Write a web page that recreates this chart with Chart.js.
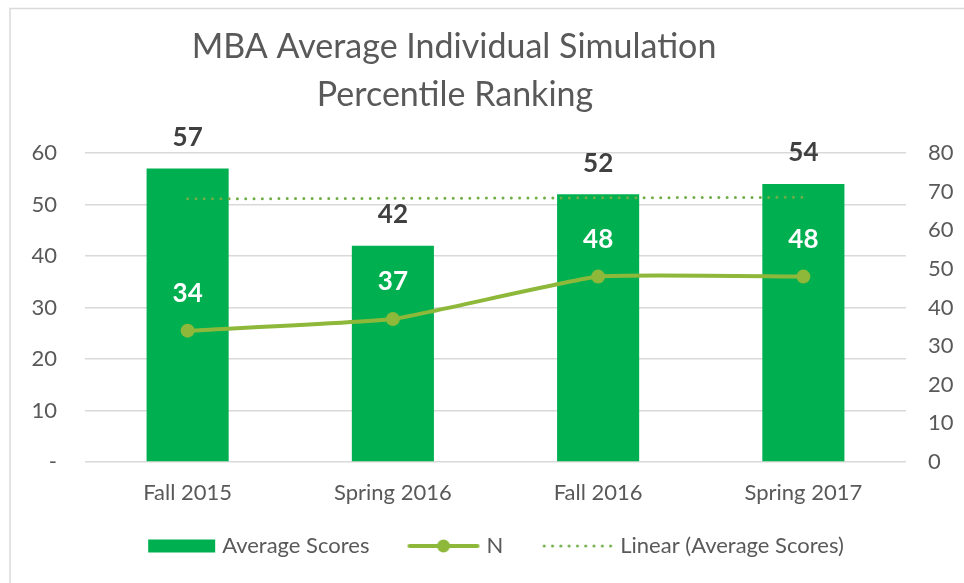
<!DOCTYPE html>
<html>
<head>
<meta charset="utf-8">
<script src="https://cdn.jsdelivr.net/npm/chart.js@4.4.1/dist/chart.umd.min.js"></script>
<style>
    html, body { margin: 0; padding: 0; background: #ffffff; }
    #wrap { width: 964px; height: 583px; position: relative; }
</style>
</head>
<body>
<div id="wrap"><canvas id="scoresChart"></canvas></div>
<script>
const terms = ['Fall 2015', 'Spring 2016', 'Fall 2016', 'Spring 2017'];
const averageScores = [57, 42, 52, 54];
const nValues = [34, 37, 48, 48];
// Excel linear trendline of the average scores
const trendValues = [51.1, 51.2, 51.3, 51.4];
const leftTicks = [0, 10, 20, 30, 40, 50, 60];
const rightTicks = [0, 10, 20, 30, 40, 50, 60, 70, 80];
const titleLines = ['MBA Average Individual Simulation', 'Percentile Ranking'];
const legendNames = ['Average Scores', 'N', 'Linear (Average Scores)'];

const BAR_GREEN = '#00b050';
const LINE_GREEN = '#8db83a';
const TREND_GREEN = '#70ad47';
const TEXT_GREY = '#595959';
const GRID_GREY = '#d9d9d9';
const FONT = 'Lato';

// Small canvases used as legend symbols; the empty left part gives the gap between items
const makeSymbol = (draw) => {
    const c = document.createElement('canvas');
    c.width = 93;
    c.height = 16;
    draw(c.getContext('2d'));
    return c;
};

const barSymbol = makeSymbol((ctx) => {
    ctx.fillStyle = BAR_GREEN;
    ctx.fillRect(25, 1.5, 67, 13);
});

const lineSymbol = makeSymbol((ctx) => {
    ctx.strokeStyle = LINE_GREEN;
    ctx.lineWidth = 4;
    ctx.lineCap = 'round';
    ctx.beginPath();
    ctx.moveTo(22, 8);
    ctx.lineTo(90, 8);
    ctx.stroke();
    ctx.fillStyle = LINE_GREEN;
    ctx.beginPath();
    ctx.arc(56, 8, 6.5, 0, Math.PI * 2);
    ctx.fill();
});

const dottedSymbol = makeSymbol((ctx) => {
    ctx.strokeStyle = TREND_GREEN;
    ctx.lineWidth = 3;
    ctx.lineCap = 'round';
    ctx.setLineDash([0, 8.3]);
    ctx.beginPath();
    ctx.moveTo(23, 8);
    ctx.lineTo(91, 8);
    ctx.stroke();
});

const legendSymbols = [barSymbol, lineSymbol, dottedSymbol];

const chartFrame = {
    id: 'chartFrame',
    beforeDraw(chart) {
        const ctx = chart.ctx;
        ctx.save();
        ctx.strokeStyle = GRID_GREY;
        ctx.lineWidth = 1.5;
        ctx.beginPath();
        ctx.moveTo(10, 600);
        ctx.lineTo(10, 8.5);
        ctx.lineTo(980, 8.5);
        ctx.stroke();
        ctx.restore();
    },
};

const chartTitle = {
    id: 'chartTitle',
    afterDraw(chart) {
        const ctx = chart.ctx;
        ctx.save();
        ctx.fillStyle = TEXT_GREY;
        ctx.font = `34px ${FONT}`;
        ctx.textAlign = 'center';
        ctx.textBaseline = 'middle';
        ctx.fillText(titleLines[0], 454, 47);
        ctx.fillText(titleLines[1], 455, 95);
        ctx.restore();
    },
};

const valueLabels = {
    id: 'valueLabels',
    afterDatasetsDraw(chart) {
        const ctx = chart.ctx;
        ctx.save();
        ctx.font = `bold 26px ${FONT}`;
        ctx.textAlign = 'center';
        ctx.textBaseline = 'middle';
        chart.getDatasetMeta(0).data.forEach((bar, i) => {
            ctx.fillStyle = '#404040';
            ctx.fillText(averageScores[i], bar.x, bar.y - 31);
        });
        chart.getDatasetMeta(2).data.forEach((point, i) => {
            ctx.fillStyle = '#ffffff';
            ctx.fillText(nValues[i], point.x, point.y - 37);
        });
        ctx.restore();
    },
};

new Chart(document.getElementById('scoresChart'), {
    data: {
        labels: terms,
        datasets: [
            {
                type: 'bar',
                label: legendNames[0],
                data: averageScores,
                yAxisID: 'y',
                backgroundColor: BAR_GREEN,
                categoryPercentage: 1,
                barPercentage: 0.4,
                order: 3,
            },
            {
                type: 'line',
                label: legendNames[2],
                data: trendValues,
                yAxisID: 'y',
                borderColor: TREND_GREEN,
                borderWidth: 3,
                borderDash: [0, 8.3],
                borderCapStyle: 'round',
                pointRadius: 0,
                fill: false,
                order: 2,
            },
            {
                type: 'line',
                label: legendNames[1],
                data: nValues,
                yAxisID: 'y1',
                borderColor: LINE_GREEN,
                backgroundColor: LINE_GREEN,
                borderWidth: 4,
                pointRadius: 7,
                pointHoverRadius: 7,
                pointBackgroundColor: LINE_GREEN,
                pointBorderWidth: 0,
                tension: 0.12,
                fill: false,
                order: 1,
            },
        ],
    },
    options: {
        responsive: true,
        maintainAspectRatio: false,
        animation: false,
        layout: {
            padding: { top: 153, left: 8, right: 0, bottom: 16 },
        },
        plugins: {
            tooltip: { enabled: false },
            title: { display: false },
            legend: {
                position: 'bottom',
                labels: {
                    usePointStyle: true,
                    pointStyleWidth: 83,
                    boxHeight: 16,
                    padding: 23,
                    color: TEXT_GREY,
                    font: { family: FONT, size: 22 },
                    generateLabels: () => legendNames.map((name, i) => ({
                        text: name,
                        pointStyle: legendSymbols[i],
                        fillStyle: 'transparent',
                        strokeStyle: 'transparent',
                        lineWidth: 0,
                        fontColor: TEXT_GREY,
                        datasetIndex: i === 1 ? 2 : (i === 2 ? 1 : 0),
                    })),
                },
            },
        },
        scales: {
            x: {
                grid: { display: false, drawTicks: false },
                border: { display: false },
                ticks: {
                    color: TEXT_GREY,
                    font: { family: FONT, size: 22 },
                    padding: 18,
                },
                afterFit: (scale) => { scale.height = 50; },
            },
            y: {
                position: 'left',
                min: 0,
                max: 60,
                afterBuildTicks: (scale) => { scale.ticks = leftTicks.map((v) => ({ value: v })); },
                grid: { color: GRID_GREY, lineWidth: 1.5, drawTicks: false },
                border: { display: false },
                ticks: {
                    color: TEXT_GREY,
                    font: { family: FONT, size: 22 },
                    padding: 28,
                    callback: (v) => (v === 0 ? '-' : v),
                },
                afterFit: (scale) => { scale.width = 77; },
            },
            y1: {
                position: 'right',
                min: 0,
                max: 80,
                afterBuildTicks: (scale) => { scale.ticks = rightTicks.map((v) => ({ value: v })); },
                grid: { display: false, drawTicks: false },
                border: { display: false },
                ticks: {
                    color: TEXT_GREY,
                    font: { family: FONT, size: 22 },
                    padding: 22,
                },
                afterFit: (scale) => { scale.width = 58; },
            },
        },
    },
    plugins: [chartFrame, chartTitle, valueLabels],
});
</script>
</body>
</html>
